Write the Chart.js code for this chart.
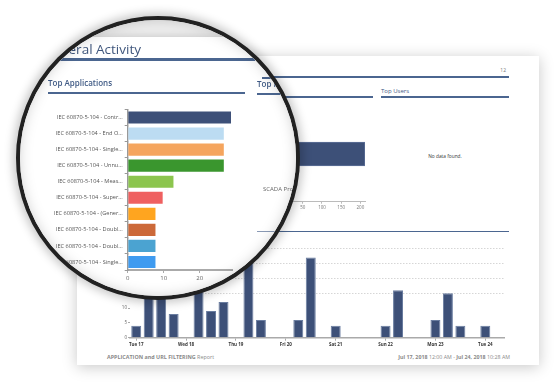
<!DOCTYPE html>
<html>
<head>
<meta charset="utf-8">
<script src="https://cdn.jsdelivr.net/npm/chart.js@4.4.1/dist/chart.umd.min.js"></script>
<style>
  html, body { margin:0; padding:0; background:#fff; }
  body { width:557px; height:384px; position:relative; overflow:hidden; font-family:"Open Sans", sans-serif; }
  .abs { position:absolute; }
  .card { left:77px; top:56px; width:462px; height:309px; background:#fff; box-shadow:0 2px 14px rgba(0,0,0,0.22); }
  .rule { background:#4b6690; }
  .title { color:#3f5a85; font-weight:600; white-space:nowrap; }
  .lens { left:16px; top:16px; width:284px; height:284px; box-sizing:border-box; border:4px solid #262626; border-radius:50%; overflow:hidden; background:#fff; box-shadow:0 0 10px 3px rgba(0,0,0,0.22); }
  .lens-inner { left:-20px; top:-20px; width:557px; height:384px; }
  .lens-shade { left:16px; top:16px; width:284px; height:284px; border-radius:50%; box-shadow:inset 0 0 16px rgba(0,0,0,0.28); pointer-events:none; }
</style>
</head>
<body>
<div class="abs card"></div>

<!-- real report, outside the lens -->
<div class="abs rule" style="left:100px;top:76px;width:409px;height:2px"></div>
<div class="abs" style="left:490px;top:67px;width:16px;text-align:right;font-size:5px;color:#777">12</div>
<div class="abs rule" style="left:245px;top:96px;width:128px;height:1.5px"></div>
<div class="abs title" style="left:381px;top:87px;font-size:6px;font-weight:400">Top Users</div>
<div class="abs rule" style="left:381px;top:96px;width:128px;height:1.5px"></div>
<div class="abs" style="left:405px;top:153px;width:80px;text-align:center;font-size:4.8px;color:#333">No data found.</div>
<div class="abs rule" style="left:100px;top:231px;width:409px;height:1px"></div>
<canvas id="protoChart" class="abs" width="130" height="112" style="left:245px;top:100px"></canvas>
<canvas id="timeChart" class="abs" width="410" height="125" style="left:100px;top:225px"></canvas>
<div class="abs" style="left:107px;top:353px;font-size:5.4px;color:#8a8a8a;white-space:nowrap"><b>APPLICATION and URL FILTERING</b> Report</div>
<div class="abs" style="left:320px;top:353px;width:190px;text-align:right;font-size:5.3px;color:#8a8a8a;white-space:nowrap"><b>Jul 17, 2018</b> 12:00 AM - <b>Jul 24, 2018</b> 10:28 AM</div>

<!-- magnifier -->
<div class="abs lens">
  <div class="abs lens-inner">
    <div class="abs" style="left:0;top:0;width:557px;height:37px;background:#ededed"></div>
    <div class="abs" style="left:0;top:37px;width:557px;height:347px;background:#fff;box-shadow:0 -2px 6px rgba(0,0,0,0.12)"></div>
    <div class="abs" style="left:0;top:38.5px;width:141px;text-align:right;font-size:13.5px;line-height:20px;color:#40577d;white-space:nowrap">General Activity</div>
    <div class="abs rule" style="left:0;top:57.5px;width:255px;height:3px"></div>
    <div class="abs rule" style="left:262px;top:76.5px;width:80px;height:2px"></div>
    <div class="abs title" style="left:48px;top:77px;font-size:8px">Top Applications</div>
    <div class="abs rule" style="left:48px;top:92px;width:197px;height:2px"></div>
    <div class="abs title" style="left:257px;top:78px;font-size:8px">Top Protocols</div>
    <div class="abs rule" style="left:257px;top:93px;width:80px;height:2px"></div>
    <div class="abs" style="left:263px;top:185px;font-size:6px;color:#666;white-space:nowrap">SCADA Protocols</div>
    <div class="abs" style="left:257px;top:231px;width:80px;height:1px;background:#8a9ab5"></div>
    <canvas id="appChart" class="abs" width="200" height="185" style="left:40px;top:100px"></canvas>
  </div>
</div>
<div class="abs lens-shade"></div>

<script>
// Top Applications (magnified)
const appLabels = [
  'IEC 60870-5-104 - Contr...',
  'IEC 60870-5-104 - End O...',
  'IEC 60870-5-104 - Single...',
  'IEC 60870-5-104 - Unnu...',
  'IEC 60870-5-104 - Meas...',
  'IEC 60870-5-104 - Super...',
  'IEC 60870-5-104 - (Gener...',
  'IEC 60870-5-104 - Doubl...',
  'IEC 60870-5-104 - Doubl...',
  'IEC 60870-5-104 - Single...'
];
const appValues = [29, 27, 27, 27, 13, 10, 8, 8, 8, 8];
const appColors = ['#3d5078', '#bcdcf2', '#f5a55e', '#3a962e', '#8cc54e', '#ef6060', '#ffa51f', '#cc6939', '#4ba3d1', '#3f9bf0'];
const appTicks = [0, 10, 20];

// Top Protocols
const protoLabels = ['SCADA Protocols'];
const protoValues = [212];
const protoTicks = [50, 100, 150, 200];

// activity over time, 6 hour slots, a day label every 4th slot
const dayLabels = ['Tue 17', 'Wed 18', 'Thu 19', 'Fri 20', 'Sat 21', 'Sun 22', 'Mon 23', 'Tue 24'];
const slotValues = [4, 17, 17, 8, 0, 18, 9, 12, 0, 30, 6, 0, 0, 6, 27, 0, 4, 0, 0, 0, 4, 16, 0, 0, 6, 15, 4, 0, 4, 0];
const countTicks = [0, 5, 10, 15, 20, 25, 30, 35];
const slotLabels = slotValues.map((v, i) => i % 4 === 0 ? dayLabels[i / 4] : '');

Chart.defaults.font.family = '"Open Sans", sans-serif';
const navy = '#3d5078';

new Chart(document.getElementById('appChart'), {
  type: 'bar',
  data: {labels: appLabels, datasets: [{data: appValues, backgroundColor: appColors, borderColor: 'rgba(255,255,255,0.7)', borderWidth: 1, barPercentage: 0.88, categoryPercentage: 1}]},
  options: {
    indexAxis: 'y', responsive: false, animation: false,
    layout: {padding: {top: 9.5, right: 8}},
    plugins: {legend: {display: false}, tooltip: {enabled: false}},
    scales: {
      x: {min: 0, max: 29,
        afterBuildTicks: s => { s.ticks = appTicks.map(v => ({value: v})); },
        afterFit: s => { s.height = 15; },
        ticks: {font: {size: 6}, color: '#666', padding: 2},
        grid: {drawOnChartArea: false, tickLength: 3, color: '#aaa'},
        border: {color: '#aaa', width: 2}},
      y: {afterFit: s => { s.width = 87.7; },
        ticks: {font: {size: 5.6}, color: '#555', padding: 2},
        grid: {drawOnChartArea: false, tickLength: 3, color: '#999'},
        border: {color: '#999', width: 1.5}}
    }
  }
});

new Chart(document.getElementById('protoChart'), {
  type: 'bar',
  data: {labels: protoLabels, datasets: [{data: protoValues, backgroundColor: navy, borderColor: '#5f729a', borderWidth: 1, barThickness: 24}]},
  options: {
    indexAxis: 'y', responsive: false, animation: false,
    layout: {padding: {top: 6, right: 10}},
    plugins: {legend: {display: false}, tooltip: {enabled: false}},
    scales: {
      x: {min: 0, max: 212,
        afterBuildTicks: s => { s.ticks = protoTicks.map(v => ({value: v})); },
        afterFit: s => { s.height = 10.3; },
        ticks: {font: {size: 4.5}, color: '#777', padding: 1},
        grid: {drawOnChartArea: false, tickLength: 2, color: '#bbb'},
        border: {color: '#bbb', width: 1}},
      y: {afterFit: s => { s.width = 38.6; },
        ticks: {font: {size: 5.5}, color: '#555'},
        grid: {drawOnChartArea: false, tickLength: 2, color: '#bbb'},
        border: {color: '#bbb', width: 1}}
    }
  }
});

new Chart(document.getElementById('timeChart'), {
  type: 'bar',
  data: {labels: slotLabels, datasets: [{data: slotValues, backgroundColor: navy, borderColor: '#6a7da0', borderWidth: 1, barPercentage: 0.8, categoryPercentage: 1}]},
  options: {
    responsive: false, animation: false,
    layout: {padding: {top: 8.8, right: 6}},
    plugins: {legend: {display: false}, tooltip: {enabled: false}},
    scales: {
      x: {afterFit: s => { s.height = 12.3; },
        ticks: {font: {size: 4.5, weight: 'bold'}, color: '#333', maxRotation: 0, autoSkip: false, padding: 1},
        grid: {drawOnChartArea: false, offset: false, tickLength: 3, color: c => (c.index % 4 === 0) ? '#aaa' : 'rgba(0,0,0,0)'},
        border: {color: '#aaa', width: 1.5}},
      y: {min: 0, max: 35,
        afterBuildTicks: s => { s.ticks = countTicks.map(v => ({value: v})); },
        afterFit: s => { s.width = 30; },
        ticks: {font: {size: 4.5}, color: '#666', padding: 1},
        grid: {color: c => (c.tick && c.tick.value >= 15 && c.tick.value <= 30) ? '#d6d6d6' : 'rgba(0,0,0,0)', tickColor: '#aaa', tickLength: 2},
        border: {display: false, dash: [1.5, 1.5]}}
    }
  }
});
</script>
</body>
</html>
